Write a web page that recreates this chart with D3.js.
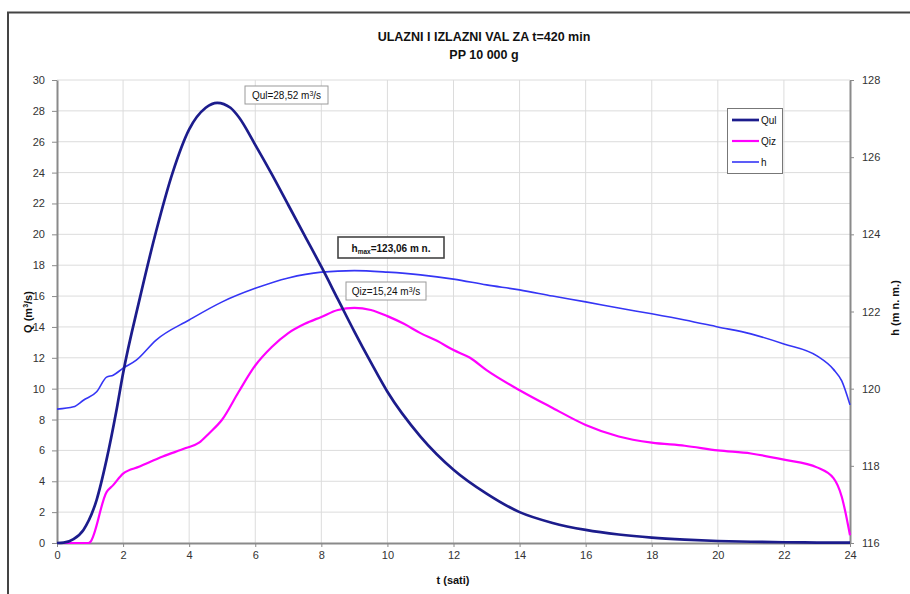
<!DOCTYPE html>
<html>
<head>
<meta charset="utf-8">
<script src="https://cdn.jsdelivr.net/npm/d3@7"></script>
<style>
  html, body { margin: 0; padding: 0; background: #fff; }
  svg { display: block; font-family: "Liberation Sans", Arial, sans-serif; }
</style>
</head>
<body>
<svg id="chart" width="910" height="594"></svg>
<script>
// Inflow hydrograph (Qul), outflow hydrograph (Qiz) and reservoir level (h)
const tQul = [0, 0.2, 0.5, 0.8, 1.2, 1.5, 1.8, 2.0, 2.5, 3.0, 3.5, 4.0, 4.5, 4.85, 5.25, 5.5, 6, 6.5, 7, 7.5, 8, 8.5, 9, 9.5, 10, 11, 12, 13, 14, 15, 16, 17, 18, 19, 20, 21, 22, 23, 24];
const qul  = [0, 0.02, 0.25, 0.85, 2.8, 5.4, 8.6, 11.0, 15.8, 20.2, 24.0, 26.8, 28.2, 28.52, 28.2, 27.6, 25.8, 23.9, 21.9, 19.9, 17.9, 15.8, 13.7, 11.7, 9.8, 6.9, 4.75, 3.2, 2.0, 1.3, 0.85, 0.55, 0.35, 0.22, 0.13, 0.08, 0.05, 0.03, 0.02];

const tQiz = [0, 0.95, 1.0, 1.5, 1.7, 2.0, 2.5, 3.2, 3.9, 4.3, 4.6, 5, 5.5, 6, 6.5, 7, 7.5, 8, 8.5, 9, 9.5, 10, 10.5, 11, 11.5, 12, 12.5, 13, 14, 15, 16, 17, 18, 19, 20, 21, 22, 23, 23.5, 23.75, 24];
const qiz  = [0, 0, 0.05, 3.3, 3.75, 4.5, 4.95, 5.6, 6.15, 6.5, 7.1, 8.0, 9.8, 11.5, 12.7, 13.6, 14.2, 14.65, 15.1, 15.24, 15.1, 14.7, 14.2, 13.6, 13.1, 12.5, 12.0, 11.2, 9.9, 8.75, 7.65, 6.9, 6.5, 6.3, 6.0, 5.8, 5.4, 4.9, 4.2, 3.0, 0.5];

const tH  = [0, 0.5, 0.8, 1.2, 1.5, 1.7, 2.0, 2.4, 3, 4, 5, 6, 7, 8, 9, 10, 11, 12, 13, 14, 15, 16, 17, 18, 19, 20, 21, 22, 23, 23.5, 23.75, 24];
const hVals = [119.47, 119.53, 119.7, 119.92, 120.3, 120.35, 120.53, 120.74, 121.26, 121.78, 122.25, 122.6, 122.87, 123.02, 123.06, 123.02, 122.95, 122.84, 122.69, 122.56, 122.4, 122.25, 122.09, 121.94, 121.78, 121.6, 121.42, 121.16, 120.85, 120.5, 120.2, 119.58];

const tTicks = [0, 2, 4, 6, 8, 10, 12, 14, 16, 18, 20, 22, 24];
const qTicks = [0, 2, 4, 6, 8, 10, 12, 14, 16, 18, 20, 22, 24, 26, 28, 30];
const hTicks = [116, 118, 120, 122, 124, 126, 128];

const titleLines = ["ULAZNI I IZLAZNI VAL ZA t=420 min", "PP 10 000 g"];
const legendItems = [
  { name: "Qul", color: "#1c1c8c", width: 2.7 },
  { name: "Qiz", color: "#ff00ff", width: 2.2 },
  { name: "h",   color: "#3535f5", width: 1.6 }
];

const svg = d3.select("#chart");
const L = 57, R = 850, T = 80, B = 543;

const x = d3.scaleLinear().domain([0, 24]).range([L, R]);
const yQ = d3.scaleLinear().domain([0, 30]).range([B, T]);
const yH = d3.scaleLinear().domain([116, 128]).range([B, T]);

// outer frame (left and top edges)
svg.append("path")
  .attr("d", `M8,594 L8,12.5 L910,12.5`)
  .attr("fill", "none").attr("stroke", "#444").attr("stroke-width", 2);

// title
svg.append("g").selectAll("text").data(titleLines).join("text")
  .attr("x", 484).attr("y", (d, i) => 41 + i * 18)
  .attr("text-anchor", "middle")
  .attr("font-size", 12.5).attr("font-weight", "bold").attr("fill", "#111")
  .text(d => d);

// grid
const grid = svg.append("g").attr("stroke", "#dcdcdc").attr("stroke-width", 1);
grid.selectAll(".gx").data(tTicks.slice(1, -1)).join("line")
  .attr("x1", d => x(d)).attr("x2", d => x(d)).attr("y1", T).attr("y2", B);
grid.selectAll(".gy").data(qTicks.slice(1)).join("line")
  .attr("x1", L).attr("x2", R).attr("y1", d => yQ(d)).attr("y2", d => yQ(d));

// axes
const axisColor = "#8a8a8a";
function styleAxis(g) {
  g.select(".domain").attr("stroke", axisColor).attr("stroke-width", 2);
  g.selectAll(".tick line").attr("stroke", axisColor).attr("stroke-width", 1);
  g.selectAll(".tick text").attr("fill", "#333").attr("font-size", 11)
    .attr("font-family", "Liberation Sans, Arial, sans-serif");
}
svg.append("g").attr("transform", `translate(0,${B})`)
  .call(d3.axisBottom(x).tickValues(tTicks).tickSize(4).tickSizeOuter(0).tickPadding(4))
  .call(styleAxis);
svg.append("g").attr("transform", `translate(${L},0)`)
  .call(d3.axisLeft(yQ).tickValues(qTicks).tickSize(5).tickSizeOuter(0).tickPadding(7))
  .call(styleAxis);
svg.append("g").attr("transform", `translate(${R},0)`)
  .call(d3.axisRight(yH).tickValues(hTicks).tickSize(4).tickSizeOuter(0).tickPadding(8))
  .call(styleAxis);

// axis titles
svg.append("text").attr("x", 453).attr("y", 584).attr("text-anchor", "middle")
  .attr("font-size", 11).attr("font-weight", "bold").attr("fill", "#111").text("t (sati)");
svg.append("text").attr("transform", "translate(32,312) rotate(-90)").attr("text-anchor", "middle")
  .attr("font-size", 11).attr("font-weight", "bold").attr("fill", "#111")
  .call(t => { t.append("tspan").text("Q (m"); t.append("tspan").attr("font-size", 7).attr("dy", -4).text("3");
               t.append("tspan").attr("dy", 4).text("/s)"); });
svg.append("text").attr("transform", "translate(899,308) rotate(-90)").attr("text-anchor", "middle")
  .attr("font-size", 11).attr("font-weight", "bold").attr("fill", "#111").text("h (m n. m.)");

// series
const curve = d3.curveMonotoneX;
const lineQ = d3.line().curve(curve).x(d => x(d[0])).y(d => yQ(d[1]));
const lineH = d3.line().curve(curve).x(d => x(d[0])).y(d => yH(d[1]));

svg.append("path").datum(d3.zip(tH, hVals)).attr("d", lineH)
  .attr("fill", "none").attr("stroke", legendItems[2].color).attr("stroke-width", legendItems[2].width);
svg.append("path").datum(d3.zip(tQiz, qiz)).attr("d", lineQ)
  .attr("fill", "none").attr("stroke", legendItems[1].color).attr("stroke-width", legendItems[1].width);
svg.append("path").datum(d3.zip(tQul, qul)).attr("d", lineQ)
  .attr("fill", "none").attr("stroke", legendItems[0].color).attr("stroke-width", legendItems[0].width);

// legend
const lg = svg.append("g");
lg.append("rect").attr("x", 727.5).attr("y", 108.5).attr("width", 55).attr("height", 65)
  .attr("fill", "#fff").attr("stroke", "#777").attr("stroke-width", 1);
legendItems.forEach((d, i) => {
  const yy = 120 + i * 21;
  lg.append("line").attr("x1", 732).attr("x2", 759).attr("y1", yy).attr("y2", yy)
    .attr("stroke", d.color).attr("stroke-width", d.width);
  lg.append("text").attr("x", 761).attr("y", yy + 4).attr("font-size", 10).attr("fill", "#111").text(d.name);
});

// annotations
const maxQul = d3.max(qul), maxQiz = d3.max(qiz), maxH = d3.max(hVals);
const fmt = v => v.toFixed(2).replace(".", ",");

function labelBox(cx, cy, w, h, stroke, sw, build) {
  const g = svg.append("g");
  g.append("rect").attr("x", cx - w / 2).attr("y", cy - h / 2).attr("width", w).attr("height", h)
    .attr("fill", "#fff").attr("stroke", stroke).attr("stroke-width", sw);
  const t = g.append("text").attr("x", cx).attr("y", cy + 4).attr("text-anchor", "middle")
    .attr("font-size", 10).attr("fill", "#111");
  build(t);
}
labelBox(286.5, 95, 83, 18, "#9a9a9a", 1, t => {
  t.append("tspan").text(`Qul=${fmt(maxQul)} m`);
  t.append("tspan").attr("font-size", 7).attr("dy", -3).text("3");
  t.append("tspan").attr("dy", 3).text("/s");
});
labelBox(386, 291, 80, 18, "#9a9a9a", 1, t => {
  t.append("tspan").text(`Qiz=${fmt(maxQiz)} m`);
  t.append("tspan").attr("font-size", 7).attr("dy", -3).text("3");
  t.append("tspan").attr("dy", 3).text("/s");
});
labelBox(391, 247.5, 106, 21, "#444", 1.6, t => {
  t.attr("font-weight", "bold");
  t.append("tspan").text("h");
  t.append("tspan").attr("font-size", 6.5).attr("dy", 2.5).text("max");
  t.append("tspan").attr("dy", -2.5).text(`=${fmt(maxH)} m n.`);
});
</script>
</body>
</html>
